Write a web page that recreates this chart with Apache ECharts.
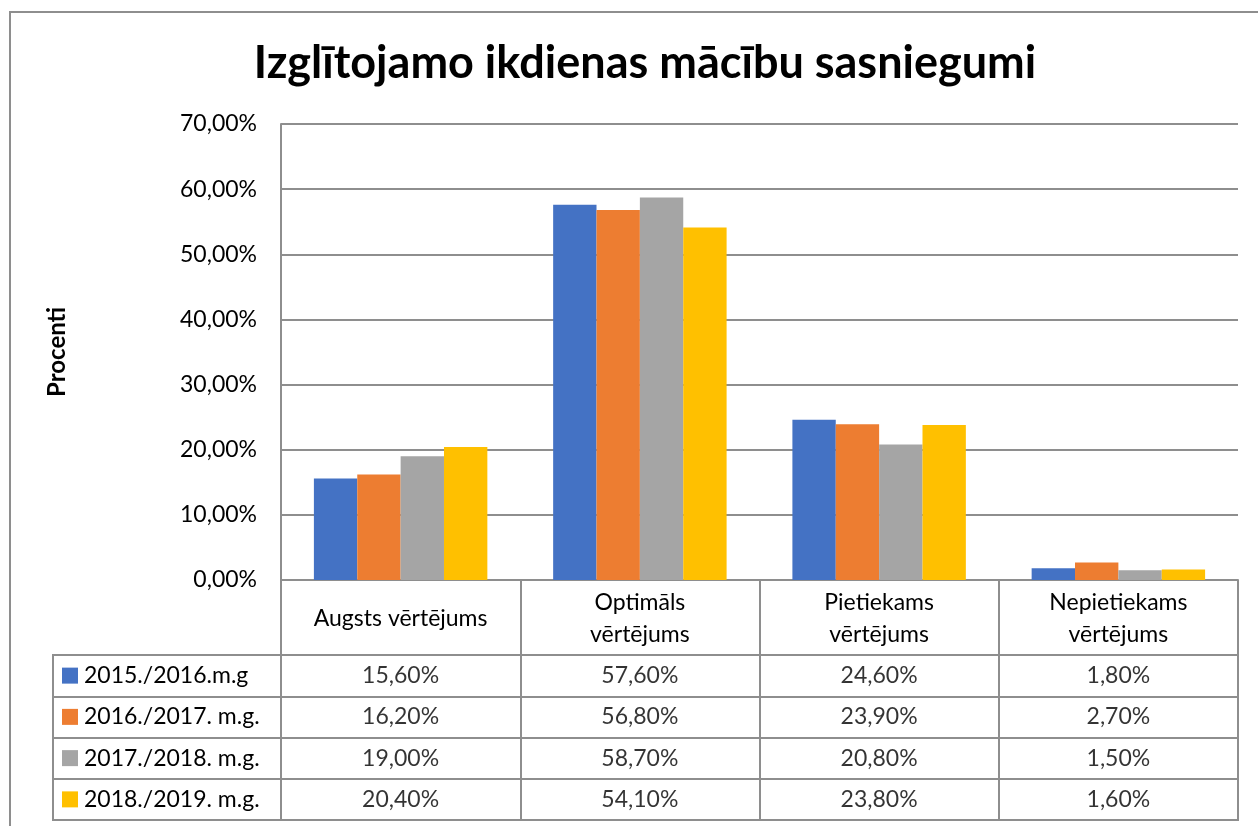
<!DOCTYPE html>
<html><head><meta charset="utf-8">
<script src="https://cdn.jsdelivr.net/npm/echarts@6/dist/echarts.min.js"></script>
<style>html,body{margin:0;padding:0;background:#fff}#c{width:1258px;height:826px}</style>
</head><body><div id="c"></div>
<script>
const titleText = 'Izglītojamo ikdienas mācību sasniegumi';
const yAxisName = 'Procenti';
const categories = ['Augsts vērtējums', 'Optimāls\nvērtējums', 'Pietiekams\nvērtējums', 'Nepietiekams\nvērtējums'];
const seriesNames = ['2015./2016.m.g', '2016./2017. m.g.', '2017./2018. m.g.', '2018./2019. m.g.'];
const values2015 = [15.6, 57.6, 24.6, 1.8];
const values2016 = [16.2, 56.8, 23.9, 2.7];
const values2017 = [19.0, 58.7, 20.8, 1.5];
const values2018 = [20.4, 54.1, 23.8, 1.6];
const yMin = 0, yMax = 70, yInterval = 10;
const colors = ['#4472C4', '#ED7D31', '#A5A5A5', '#FFC000'];
const allValues = [values2015, values2016, values2017, values2018];

const FONT = 'Lato';
const FS = 23;
const GRID_C = '#8e8e8e';
const fmt = v => v.toFixed(2).replace('.', ',') + '%';

const rich = {t: {fontFamily: FONT, fontSize: FS, color: '#000', padding: [0, 0, 0, 6]}};
colors.forEach((c, i) => { rich['sq' + i] = {width: 16, height: 16, backgroundColor: c}; });

const chart = echarts.init(document.getElementById('c'));
const barSeries = seriesNames.map((n, i) => ({
  name: n, type: 'bar', xAxisIndex: 0, yAxisIndex: 0,
  data: allValues[i], itemStyle: {color: colors[i]},
  barGap: '0%', barCategoryGap: '27.5%', silent: true
}));
const tableSeries = seriesNames.map((n, i) => ({
  type: 'scatter', xAxisIndex: 1, yAxisIndex: 1, symbolSize: 0, silent: true,
  data: allValues[i].map((v, j) => [j, i, v]),
  label: {show: true, position: 'inside', formatter: p => fmt(p.data[2]),
    fontFamily: FONT, fontSize: FS, color: '#000'}
}));

chart.setOption({
  animation: false,
  backgroundColor: '#fff',
  title: {text: titleText, left: 640, top: 36, textAlign: 'center',
    textStyle: {fontFamily: FONT, fontSize: 45, fontWeight: 'bold', color: '#000'}},
  graphic: [{type: 'rect', shape: {x: 10, y: 12, width: 1300, height: 900},
    style: {fill: 'none', stroke: GRID_C, lineWidth: 2}, silent: true, z: -1}],
  grid: [
    {left: 281, right: 20, top: 124, bottom: 246},
    {left: 281, right: 20, top: 655, bottom: 6, show: true, borderColor: GRID_C, borderWidth: 2},
    {left: 53, width: 228, top: 655, bottom: 6, show: true, borderColor: GRID_C, borderWidth: 2}
  ],
  xAxis: [
    {type: 'category', gridIndex: 0, data: categories,
      axisLine: {lineStyle: {color: GRID_C, width: 2}},
      axisTick: {show: true, length: 75, lineStyle: {color: GRID_C, width: 2}},
      axisLabel: {fontFamily: FONT, fontSize: FS, color: '#000', verticalAlign: 'middle', margin: 39, lineHeight: 32, interval: 0}},
    {type: 'category', gridIndex: 1, data: categories,
      axisLine: {show: false}, axisTick: {show: false}, axisLabel: {show: false},
      splitLine: {show: true, interval: 0, lineStyle: {color: GRID_C, width: 2}}},
    {type: 'value', gridIndex: 2, show: false}
  ],
  yAxis: [
    {type: 'value', gridIndex: 0, min: yMin, max: yMax, interval: yInterval,
      name: yAxisName, nameLocation: 'middle', nameRotate: 90, nameGap: 212,
      nameTextStyle: {fontFamily: FONT, fontSize: 24, fontWeight: 'bold', color: '#000'},
      axisLine: {show: true, lineStyle: {color: GRID_C, width: 2}},
      axisLabel: {fontFamily: FONT, fontSize: FS, color: '#000', margin: 24, formatter: fmt},
      splitLine: {lineStyle: {color: GRID_C, width: 2}}},
    {type: 'category', gridIndex: 1, data: seriesNames, inverse: true,
      axisLine: {show: false}, axisTick: {show: false}, axisLabel: {show: false},
      splitLine: {show: true, interval: 0, lineStyle: {color: GRID_C, width: 2}}},
    {type: 'category', gridIndex: 2, data: seriesNames, inverse: true,
      axisLine: {show: false}, axisTick: {show: false},
      axisLabel: {inside: true, margin: 9, formatter: (v, i) => '{sq' + i + '|}{t|' + v + '}', rich: rich},
      splitLine: {show: true, interval: 0, lineStyle: {color: GRID_C, width: 2}}}
  ],
  series: barSeries.concat(tableSeries)
});
</script></body></html>
